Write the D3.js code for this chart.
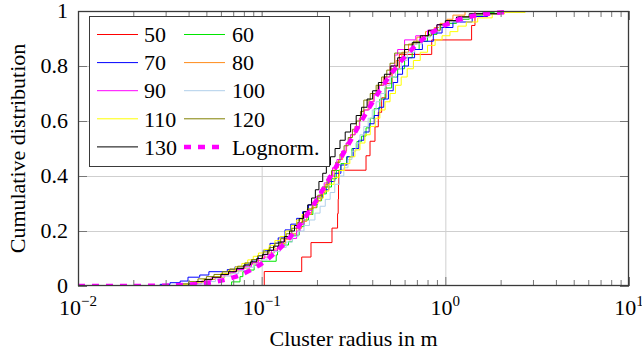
<!DOCTYPE html>
<html><head><meta charset="utf-8">
<script src="https://cdn.jsdelivr.net/npm/d3@7"></script>
<style>
body{margin:0;background:#fff;}
svg{display:block;font-family:"Liberation Serif","Times New Roman",serif;}
</style></head><body>
<svg id="chart" width="642" height="354"></svg>
<script>
// ---------- data ----------
const xTickValues = [0.01, 0.1, 1, 10];
const xTickExponents = ["\u22122", "\u22121", "0", "1"];
const yTickValues = [0, 0.2, 0.4, 0.6, 0.8, 1];
const yTickLabels = ["0", "0.2", "0.4", "0.6", "0.8", "1"];
const legendLabels = ["50", "60", "70", "80", "90", "100", "110", "120", "130", "Lognorm."];

// 50: raw sorted cluster radii (m), empirical CDF
const s50 = [0.1033, 0.1652, 0.1856, 0.2415, 0.259, 0.261, 0.262, 0.263, 0.370, 0.389,
             0.414, 0.4315, 0.450, 0.475, 0.5125, 0.5614, 0.843, 1.39, 1.45];

// other series: [radius (m), cumulative value after step]
const s60 = [[0.0686,0.015],[0.0762,0.034],[0.079,0.052],[0.083,0.058],[0.091,0.076],[0.1,0.09],[0.12,0.113],[0.122,0.143],[0.13,0.149],[0.14,0.161],[0.147,0.185],[0.16,0.216],[0.17,0.24],[0.18,0.26],[0.19,0.285],[0.2,0.31],[0.212,0.335],[0.225,0.36],[0.24,0.39],[0.255,0.42],[0.27,0.445],[0.29,0.47],[0.31,0.5],[0.33,0.525],[0.35,0.545],[0.37,0.575],[0.39,0.61],[0.41,0.645],[0.44,0.68],[0.47,0.72],[0.51,0.76],[0.55,0.79],[0.6,0.83],[0.66,0.86],[0.72,0.89],[0.8,0.915],[0.9,0.94],[1.0,0.955],[1.15,0.97],[1.35,0.985],[1.6,0.995],[1.85,1]];
const s70 = [[0.028,0.006],[0.0317,0.012],[0.036,0.018],[0.0397,0.032],[0.046,0.04],[0.0516,0.052],[0.065,0.06],[0.0716,0.07],[0.081,0.08],[0.089,0.095],[0.096,0.11],[0.102,0.13],[0.111,0.155],[0.123,0.175],[0.134,0.204],[0.144,0.225],[0.155,0.246],[0.167,0.27],[0.18,0.295],[0.2,0.32],[0.215,0.35],[0.232,0.38],[0.25,0.41],[0.27,0.44],[0.292,0.47],[0.315,0.5],[0.338,0.53],[0.36,0.56],[0.385,0.59],[0.41,0.62],[0.435,0.65],[0.462,0.68],[0.49,0.71],[0.52,0.74],[0.55,0.77],[0.585,0.8],[0.63,0.83],[0.68,0.86],[0.75,0.89],[0.86,0.92],[0.96,0.94],[1.1,0.96],[1.4,0.98],[1.7,0.99],[2.0,1]];
const s80 = [[0.04,0.008],[0.045,0.016],[0.05,0.024],[0.056,0.032],[0.063,0.045],[0.07,0.055],[0.078,0.065],[0.086,0.08],[0.094,0.092],[0.1,0.105],[0.108,0.12],[0.117,0.135],[0.126,0.155],[0.135,0.17],[0.145,0.19],[0.155,0.21],[0.165,0.235],[0.176,0.26],[0.187,0.285],[0.198,0.31],[0.21,0.34],[0.222,0.37],[0.235,0.4],[0.248,0.43],[0.262,0.46],[0.276,0.49],[0.29,0.52],[0.305,0.55],[0.322,0.58],[0.34,0.61],[0.36,0.64],[0.38,0.67],[0.405,0.7],[0.43,0.73],[0.46,0.76],[0.5,0.79],[0.54,0.82],[0.58,0.85],[0.63,0.88],[0.7,0.905],[0.78,0.925],[0.87,0.94],[0.935,0.955],[1.02,0.97],[1.1,0.985],[1.28,1]];
const s90 = [[0.042,0.008],[0.047,0.018],[0.053,0.03],[0.06,0.04],[0.066,0.05],[0.072,0.06],[0.08,0.07],[0.088,0.085],[0.096,0.1],[0.104,0.115],[0.113,0.13],[0.122,0.145],[0.128,0.16],[0.132,0.173],[0.155,0.2],[0.162,0.225],[0.17,0.25],[0.179,0.275],[0.188,0.3],[0.198,0.325],[0.208,0.35],[0.219,0.375],[0.23,0.4],[0.243,0.43],[0.257,0.46],[0.272,0.49],[0.288,0.52],[0.305,0.55],[0.323,0.58],[0.342,0.61],[0.362,0.64],[0.385,0.67],[0.41,0.7],[0.437,0.73],[0.465,0.76],[0.5,0.8],[0.53,0.84],[0.55,0.86],[0.6,0.895],[0.69,0.91],[0.8,0.93],[0.9,0.95],[1.02,0.965],[1.18,0.98],[1.4,0.99],[1.7,1]];
const s100 = [[0.045,0.008],[0.05,0.016],[0.056,0.026],[0.062,0.036],[0.068,0.046],[0.075,0.056],[0.083,0.068],[0.091,0.08],[0.099,0.095],[0.107,0.11],[0.116,0.125],[0.126,0.14],[0.136,0.16],[0.147,0.18],[0.158,0.2],[0.17,0.22],[0.182,0.24],[0.195,0.265],[0.208,0.29],[0.222,0.315],[0.236,0.34],[0.25,0.37],[0.265,0.4],[0.28,0.43],[0.295,0.46],[0.31,0.49],[0.326,0.52],[0.343,0.55],[0.36,0.58],[0.38,0.61],[0.4,0.64],[0.42,0.67],[0.445,0.7],[0.47,0.73],[0.5,0.76],[0.535,0.79],[0.575,0.82],[0.62,0.85],[0.68,0.88],[0.75,0.905],[0.83,0.925],[0.93,0.945],[1.05,0.96],[1.2,0.975],[1.4,0.99],[1.7,1]];
const s110 = [[0.036,0.006],[0.042,0.014],[0.048,0.024],[0.054,0.034],[0.06,0.046],[0.066,0.058],[0.072,0.07],[0.078,0.082],[0.084,0.095],[0.09,0.108],[0.096,0.12],[0.103,0.133],[0.11,0.148],[0.118,0.165],[0.126,0.18],[0.135,0.2],[0.145,0.22],[0.155,0.24],[0.166,0.26],[0.177,0.28],[0.19,0.3],[0.203,0.32],[0.217,0.345],[0.232,0.37],[0.248,0.395],[0.265,0.42],[0.283,0.445],[0.302,0.47],[0.322,0.495],[0.343,0.52],[0.365,0.55],[0.39,0.58],[0.415,0.61],[0.44,0.64],[0.47,0.67],[0.5,0.7],[0.535,0.73],[0.575,0.76],[0.62,0.79],[0.67,0.82],[0.73,0.85],[0.8,0.875],[0.88,0.895],[0.96,0.91],[1.06,0.925],[1.17,0.945],[1.3,0.96],[1.5,0.975],[1.8,0.99],[2.1,0.995],[2.72,1]];
const s120 = [[0.036,0.008],[0.04,0.016],[0.045,0.026],[0.05,0.034],[0.055,0.042],[0.061,0.052],[0.067,0.062],[0.074,0.072],[0.081,0.084],[0.088,0.096],[0.095,0.11],[0.102,0.124],[0.11,0.14],[0.118,0.156],[0.127,0.172],[0.136,0.19],[0.146,0.21],[0.156,0.23],[0.167,0.255],[0.178,0.28],[0.19,0.305],[0.202,0.33],[0.214,0.36],[0.227,0.39],[0.24,0.42],[0.253,0.45],[0.267,0.48],[0.281,0.51],[0.296,0.54],[0.312,0.57],[0.328,0.6],[0.345,0.635],[0.36,0.676],[0.39,0.7],[0.42,0.73],[0.45,0.76],[0.48,0.785],[0.5,0.81],[0.53,0.847],[0.6,0.877],[0.67,0.89],[0.75,0.91],[0.84,0.93],[0.94,0.95],[1.05,0.965],[1.2,0.98],[1.45,0.99],[2.0,1]];
const s130 = [[0.04,0.008],[0.044,0.016],[0.049,0.024],[0.054,0.032],[0.06,0.042],[0.066,0.052],[0.073,0.064],[0.08,0.076],[0.087,0.088],[0.094,0.1],[0.101,0.115],[0.108,0.13],[0.116,0.145],[0.124,0.16],[0.133,0.18],[0.142,0.2],[0.151,0.22],[0.16,0.245],[0.169,0.27],[0.178,0.295],[0.187,0.32],[0.196,0.35],[0.205,0.38],[0.215,0.41],[0.225,0.44],[0.237,0.47],[0.251,0.5],[0.267,0.53],[0.285,0.56],[0.305,0.59],[0.327,0.62],[0.35,0.65],[0.375,0.68],[0.402,0.71],[0.432,0.74],[0.466,0.77],[0.505,0.8],[0.55,0.83],[0.6,0.86],[0.66,0.885],[0.73,0.91],[0.81,0.93],[0.9,0.95],[1.0,0.965],[1.15,0.978],[1.35,0.99],[1.95,1]];

// lognormal fit
const lognormX = [0.01,0.01259,0.01585,0.01995,0.02512,0.03162,0.03981,0.05012,0.05623,0.0631,0.07079,0.07943,0.08913,0.1,0.1122,0.1259,0.1413,0.1585,0.1778,0.1995,0.2239,0.2512,0.2818,0.3162,0.3548,0.3981,0.4467,0.5012,0.5623,0.631,0.7079,0.7943,0.8913,1.0,1.122,1.259,1.413,1.585,1.778,1.995,2.239];
const lognormP = [0,0.00002,0.00007,0.00022,0.00066,0.0018,0.0046,0.0106,0.0157,0.0228,0.0323,0.0449,0.0611,0.0817,0.107,0.1377,0.1738,0.2154,0.2623,0.3139,0.3694,0.4279,0.4879,0.5482,0.6075,0.6643,0.7176,0.7665,0.8103,0.8485,0.8814,0.9088,0.9312,0.9491,0.9631,0.9738,0.9817,0.9875,0.9917,0.9945,0.9965];

// ---------- styles ----------
const colors = {"50":"#ff0000","60":"#00e600","70":"#0000ff","80":"#ff8c1a","90":"#ff00ff",
                "100":"#b0cfea","110":"#ffff00","120":"#808000","130":"#000000"};
const FONT = 22;
const FAMILY = "'Liberation Serif','Times New Roman',serif";

// ---------- build ----------
const svg = d3.select("#chart");
const L = 78, R = 629, T = 11, B = 286;
const x = d3.scaleLog().domain([0.01, 10]).range([L, R]);
const y = d3.scaleLinear().domain([0, 1]).range([B, T]);

svg.append("defs").append("clipPath").attr("id","clip")
  .append("rect").attr("x",L).attr("y",T-2).attr("width",R-L).attr("height",B-T+2);

// grid
const gx = svg.append("g").attr("transform",`translate(0,${B})`)
  .call(d3.axisBottom(x).tickValues([0.1,1]).tickSize(-(B-T)).tickFormat(""));
const gy = svg.append("g").attr("transform",`translate(${L},0)`)
  .call(d3.axisLeft(y).tickValues([0.2,0.4,0.6,0.8]).tickSize(-(R-L)).tickFormat(""));
[gx, gy].forEach(g => { g.select(".domain").remove(); g.selectAll("line").attr("stroke","#cfcfcf").attr("stroke-width",1); });

// series
const plot = svg.append("g").attr("clip-path","url(#clip)");
const stepLine = d3.line().x(d => x(d[0])).y(d => y(d[1])).curve(d3.curveStepAfter);
const seriesData = [
  ["50", s50.map((v,i) => [v, (i+1)/s50.length])],
  ["60", s60], ["70", s70], ["80", s80], ["90", s90],
  ["100", s100], ["110", s110], ["120", s120], ["130", s130]
];
seriesData.forEach(([name, pts]) => {
  plot.append("path")
    .datum([[0.01, 0]].concat(pts))
    .attr("d", stepLine)
    .attr("fill","none")
    .attr("stroke", colors[name])
    .attr("stroke-width", 1);
});

// lognormal
const lnLine = d3.line().x(d => x(d[0])).y(d => y(d[1])).curve(d3.curveMonotoneX);
plot.append("path")
  .datum(lognormX.map((v,i) => [v, lognormP[i]]))
  .attr("d", lnLine).attr("fill","none")
  .attr("stroke","#ff00ff").attr("stroke-width",4.5).attr("stroke-dasharray","7,7");

// ticks
const minor = [];
[0.01,0.1,1].forEach(d => { for (let k=2;k<10;k++) minor.push(d*k); });
const tickG = svg.append("g");
const tb = tickG.append("g").attr("transform",`translate(0,${B})`)
  .call(d3.axisBottom(x).tickValues(xTickValues).tickSize(-9).tickFormat(""));
const tbm = tickG.append("g").attr("transform",`translate(0,${B})`)
  .call(d3.axisBottom(x).tickValues(minor).tickSize(-6).tickFormat(""));
const tt = tickG.append("g").attr("transform",`translate(0,${T})`)
  .call(d3.axisTop(x).tickValues(xTickValues).tickSize(-9).tickFormat(""));
const ttm = tickG.append("g").attr("transform",`translate(0,${T})`)
  .call(d3.axisTop(x).tickValues(minor).tickSize(-6).tickFormat(""));
const tl = tickG.append("g").attr("transform",`translate(${L},0)`)
  .call(d3.axisLeft(y).tickValues(yTickValues).tickSize(-9).tickFormat(""));
const tr = tickG.append("g").attr("transform",`translate(${R},0)`)
  .call(d3.axisRight(y).tickValues(yTickValues).tickSize(-9).tickFormat(""));
[tb,tbm,tt,ttm,tl,tr].forEach(g => { g.select(".domain").remove(); g.selectAll("line").attr("stroke","#777").attr("stroke-width",1); });

// frame
svg.append("rect").attr("x",L+0.5).attr("y",T+0.5).attr("width",R-L-1).attr("height",B-T-1)
  .attr("fill","none").attr("stroke","#3a3a3a").attr("stroke-width",1.3);

// tick labels
svg.append("g").selectAll("text").data(yTickValues).join("text")
  .attr("x", L-10).attr("y", d => y(d)).attr("dy","0.33em")
  .attr("text-anchor","end").attr("font-family",FAMILY).attr("font-size",FONT).attr("fill","#000")
  .text((d,i) => yTickLabels[i]);
const xl = svg.append("g").selectAll("text").data(xTickValues).join("text")
  .attr("x", d => x(d)).attr("y", 315)
  .attr("text-anchor","middle").attr("font-family",FAMILY).attr("font-size",FONT).attr("fill","#000");
xl.append("tspan").text("10");
xl.append("tspan").attr("dy",-9).attr("font-size",15).text((d,i) => xTickExponents[i]);

// axis titles
svg.append("text").attr("x",(L+R)/2).attr("y",346).attr("text-anchor","middle")
  .attr("font-family",FAMILY).attr("font-size",FONT).text("Cluster radius in m");
svg.append("text").attr("transform",`translate(25,${(T+B)/2}) rotate(-90)`)
  .attr("text-anchor","middle").attr("font-family",FAMILY).attr("font-size",FONT).text("Cumulative distribution");

// legend
const lg = svg.append("g");
lg.append("rect").attr("x",89.5).attr("y",16.5).attr("width",240).attr("height",150)
  .attr("fill","#fff").attr("stroke","#3a3a3a").attr("stroke-width",1);
legendLabels.forEach((lab, i) => {
  const row = Math.floor(i/2), col = i % 2;
  const cy = 34.5 + row*28.1;
  const x1 = 97 + col*87, x2 = 138 + col*87;
  const ln = lg.append("line").attr("x1",x1).attr("x2",x2).attr("y1",cy).attr("y2",cy);
  if (lab === "Lognorm.") {
    ln.attr("stroke","#ff00ff").attr("stroke-width",4.5).attr("stroke-dasharray","7,7");
  } else {
    ln.attr("stroke",colors[lab]).attr("stroke-width",1);
  }
  lg.append("text").attr("x", 144 + col*88).attr("y", cy+0.5).attr("dy","0.33em")
    .attr("font-family",FAMILY).attr("font-size",FONT).attr("fill","#000").text(lab);
});
</script></body></html>
